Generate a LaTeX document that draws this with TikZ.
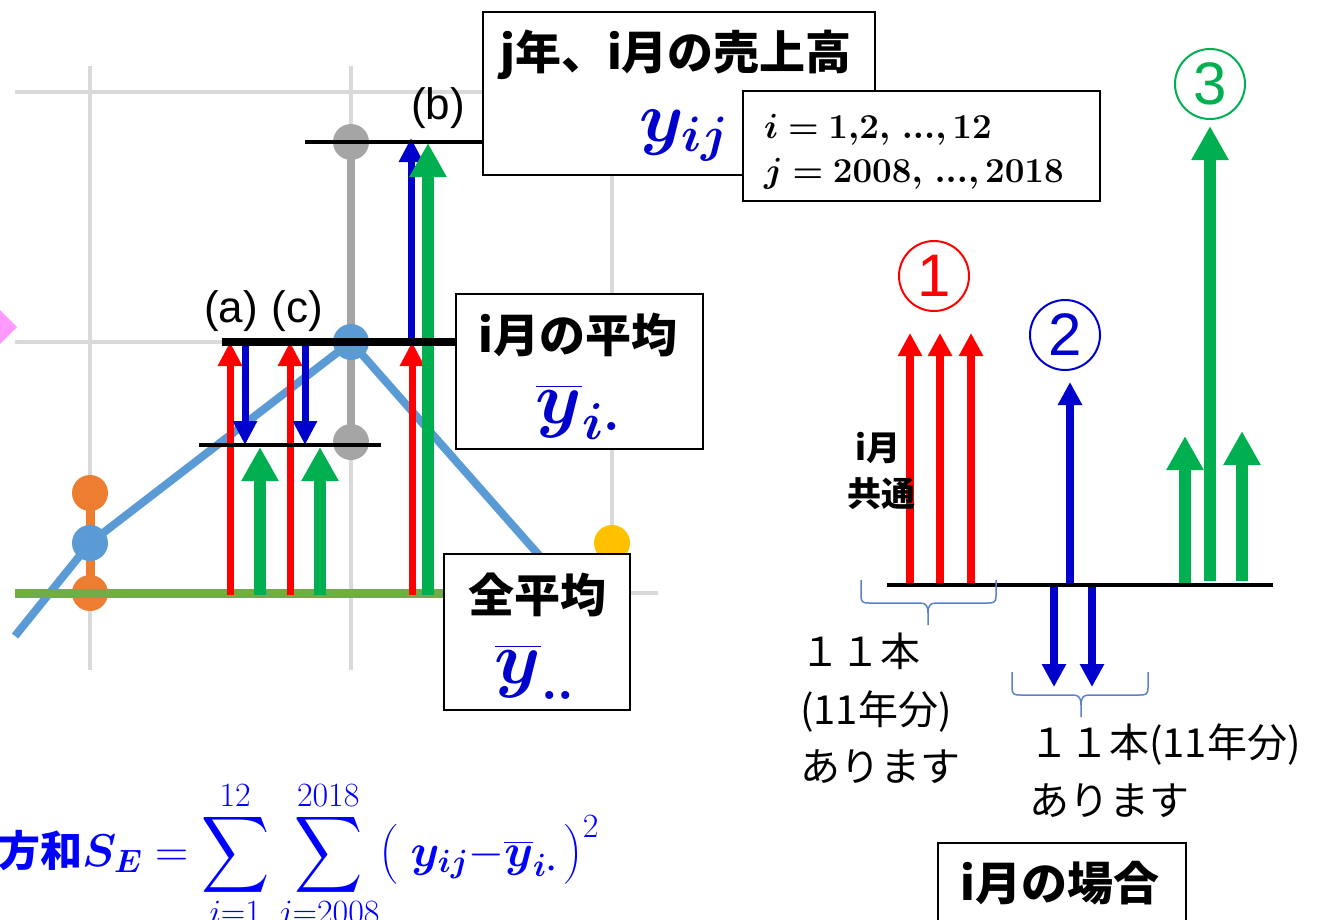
\RequirePackage{fix-cm}
\documentclass[tikz,border=0pt]{standalone}
\usepackage[no-math]{fontspec}
\usepackage{amsmath,bm,graphicx}
\setmainfont{Liberation Sans}
\newfontfamily\jp{Noto Sans CJK JP}
\usetikzlibrary{arrows.meta}
\definecolor{gridgray}{HTML}{D9D9D9}
\definecolor{serblue}{HTML}{5B9BD5}
\definecolor{serorange}{HTML}{ED7D31}
\definecolor{sergray}{HTML}{A5A5A5}
\definecolor{seryellow}{HTML}{FFC000}
\definecolor{sergreen}{HTML}{70AD47}
\definecolor{pinkm}{HTML}{FF99FF}
\definecolor{ared}{HTML}{FF0000}
\definecolor{ablue}{HTML}{0000CC}
\definecolor{agreen}{HTML}{00B050}
\definecolor{fblue}{HTML}{0000FF}
\definecolor{braceblue}{HTML}{5B82C8}
\newcommand\mySum{\mathop{\vcenter{\hbox{\scalebox{1.9}[2.15]{$\displaystyle\sum$}}}}\limits}
\newcommand\limtxt[1]{\hbox{\fontsize{34}{34}\selectfont$#1$}}
\tikzset{
  gridline/.style={gridgray, line width=4pt},
  tbox/.style={draw=black, line width=2pt, fill=white, inner sep=0pt},
  head/.style={font=\jp\bfseries\fontsize{46}{50}\selectfont, inner sep=0pt, anchor=base},
  small head/.style={font=\jp\bfseries\fontsize{34}{40}\selectfont, inner sep=0pt, anchor=base},
  body/.style={font=\jp\fontsize{40}{46}\selectfont, inner sep=0pt, anchor=base west},
  lbl/.style={font=\fontsize{44}{50}\selectfont, inner sep=0pt},
  mth/.style={text=ablue, inner sep=0pt, anchor=base},
  thinarr/.style={line width=7pt, -{Triangle[length=24pt,width=23pt]}},
  midarr/.style={line width=8pt, -{Triangle[length=23pt,width=23pt]}},
  fatarr/.style={line width=12pt, -{Triangle[length=34pt,width=35pt]}},
  numcirc/.style={circle, draw=#1, text=#1, line width=2pt, minimum size=70pt, inner sep=0pt, font=\fontsize{60}{60}\selectfont},
  brace/.style={draw=braceblue, line width=1.5pt},
}
\begin{document}
\begin{tikzpicture}[x=1pt,y=-1pt]
\useasboundingbox (0,0) rectangle (1319,919);
% chart grid
\draw[gridline] (15,92) -- (658,92);
\draw[gridline] (15,342) -- (658,342);
\draw[gridline] (15,593) -- (658,593);
\foreach \gx in {90,351,612} \draw[gridline] (\gx,66) -- (\gx,670);
% pink marker at left edge
\fill[pinkm] (0,310) -- (17,327) -- (0,344) -- (-17,327) -- cycle;
% series
\draw[serorange, line width=9pt] (90,493) -- (90,593);
\fill[serorange] (90,493) circle (18pt) (90,593) circle (18pt);
\draw[sergray, line width=8pt] (351,142) -- (351,442);
\fill[sergray] (351,142) circle (18pt) (351,442) circle (18pt);
\draw[serblue, line width=8pt, line join=round] (15,636) -- (90,543) -- (351,342) -- (545,562);
\fill[serblue] (90,543) circle (18pt) (351,342) circle (18pt);
\fill[seryellow] (612,543) circle (18pt);
\draw[sergreen, line width=9pt] (15,593) -- (450,593);
% arrows on the chart
\draw[thinarr, ared] (230,595) -- (230,342);
\draw[thinarr, ared] (290,595) -- (290,342);
\draw[thinarr, ablue] (245,345) -- (245,445);
\draw[thinarr, ablue] (305,345) -- (305,445);
\draw[fatarr, agreen] (260,595) -- (260,447);
\draw[fatarr, agreen] (320,595) -- (320,447);
\draw[thinarr, ablue] (411,342) -- (411,138);
\draw[thinarr, ared] (412,595) -- (412,342);
\draw[fatarr, agreen] (428,595) -- (428,143);
% level lines
\draw[line width=4pt] (305,142) -- (485,142);
\draw[line width=8pt] (222,342) -- (458,342);
\draw[line width=4pt] (199,445) -- (381,445);
% labels
\node[lbl] (la) at (231,311) {(a)};
\node[lbl] (lc) at (297,311) {(c)};
\node[lbl] (lb) at (438,108) {(b)};
% boxes
\node[tbox, minimum width=392pt, minimum height=163pt] (box1) at (679,93.5) {};
\node[head] (t1) at (676,69) {j年、i月の売上高};
\node[mth, font=\fontsize{71}{80}\selectfont] (m1) at (684,141) {$\bm{y_{ij}}$};
\node[tbox, minimum width=357pt, minimum height=110pt] (box2) at (921.5,146) {};
\node[inner sep=0pt, anchor=base west, font=\fontsize{35}{40}\selectfont] (r1) at (764,138) {$\bm{i = 1{,}2,\, {.}{.}{.}{,}\, 12}$};
\node[inner sep=0pt, anchor=base west, font=\fontsize{35}{40}\selectfont] (r2) at (764,182) {$\bm{j = 2008,\, {.}{.}{.}{,}\, 2018}$};
\node[tbox, minimum width=247pt, minimum height=155pt] (box3) at (579.5,371.5) {};
\node[head] (t3) at (578,352) {i月の平均};
\node[mth, font=\fontsize{74}{80}\selectfont] (m3) at (578,423) {$\bm{\overline{y}_{i\cdot}}$};
\node[tbox, minimum width=186pt, minimum height=156pt] (box4) at (537,632) {};
\node[head] (t4) at (537,612) {全平均};
\node[mth, font=\fontsize{74}{80}\selectfont] (m4) at (535,683) {$\bm{\overline{y}_{..}}$};
% right part
\draw[midarr, ared] (910,585) -- (910,333);
\draw[midarr, ared] (940,585) -- (940,333);
\draw[midarr, ared] (971,585) -- (971,333);
\draw[midarr, ablue] (1070,585) -- (1070,382);
\draw[midarr, ablue] (1054,585) -- (1054,687);
\draw[midarr, ablue] (1092,585) -- (1092,687);
\draw[fatarr, agreen] (1185,585) -- (1185,436);
\draw[fatarr, agreen] (1210,581) -- (1210,126);
\draw[fatarr, agreen] (1242,581) -- (1242,431);
\draw[line width=4pt] (887,585) -- (1273,585);
\node[numcirc=ared] (n1) at (934,276) {1};
\node[numcirc=ablue] (n2) at (1065,335) {2};
\node[numcirc=agreen] (n3) at (1210,84) {3};
\node[small head] (c1) at (878,460) {i月};
\node[small head] (c2) at (881,506) {共通};
% braces
\draw[brace] (861,580) -- (861,596) .. controls (861,602) and (863,603) .. (869,603) -- (920,603) .. controls (926,603) and (928,606) .. (928,613) -- (928,625);
\draw[brace] (928,613) .. controls (928,606) and (930,603) .. (936,603) -- (988,603) .. controls (994,603) and (996,602) .. (996,596) -- (996,580);
\draw[brace] (1012,672) -- (1012,688) .. controls (1012,694) and (1014,695) .. (1020,695) -- (1073,695) .. controls (1079,695) and (1081,698) .. (1081,705) -- (1081,717);
\draw[brace] (1081,705) .. controls (1081,698) and (1083,695) .. (1089,695) -- (1140,695) .. controls (1146,695) and (1148,694) .. (1148,688) -- (1148,672);
\node[body] (b1) at (800,666) {１１本};
\node[body] (b2) at (800,724) {(11年分)};
\node[body] (b3) at (800,781) {あります};
\node[body] (b4) at (1029,757) {１１本(11年分)};
\node[body] (b5) at (1029,815) {あります};
\node[tbox, minimum width=248pt, minimum height=100pt] (box5) at (1062,893) {};
\node[head] (t5) at (1060,900) {i月の場合};
% formula
\node[inner sep=0pt, anchor=base west, text=fblue, font=\fontsize{46}{52}\selectfont] (f) at (-2,866)
  {{\jp\bfseries\fontsize{42}{50}\selectfont 方和}$\bm{S_E} = \mySum_{\limtxt{i{=}1}}^{\limtxt{12}}\mySum_{\limtxt{j{=}2008}}^{\limtxt{2018}}\bigl(\;\bm{y_{ij}}{-}\bm{\overline{y}_{i\cdot}}\,\bigr)^{\limtxt{2}}$};
\end{tikzpicture}
\end{document}
